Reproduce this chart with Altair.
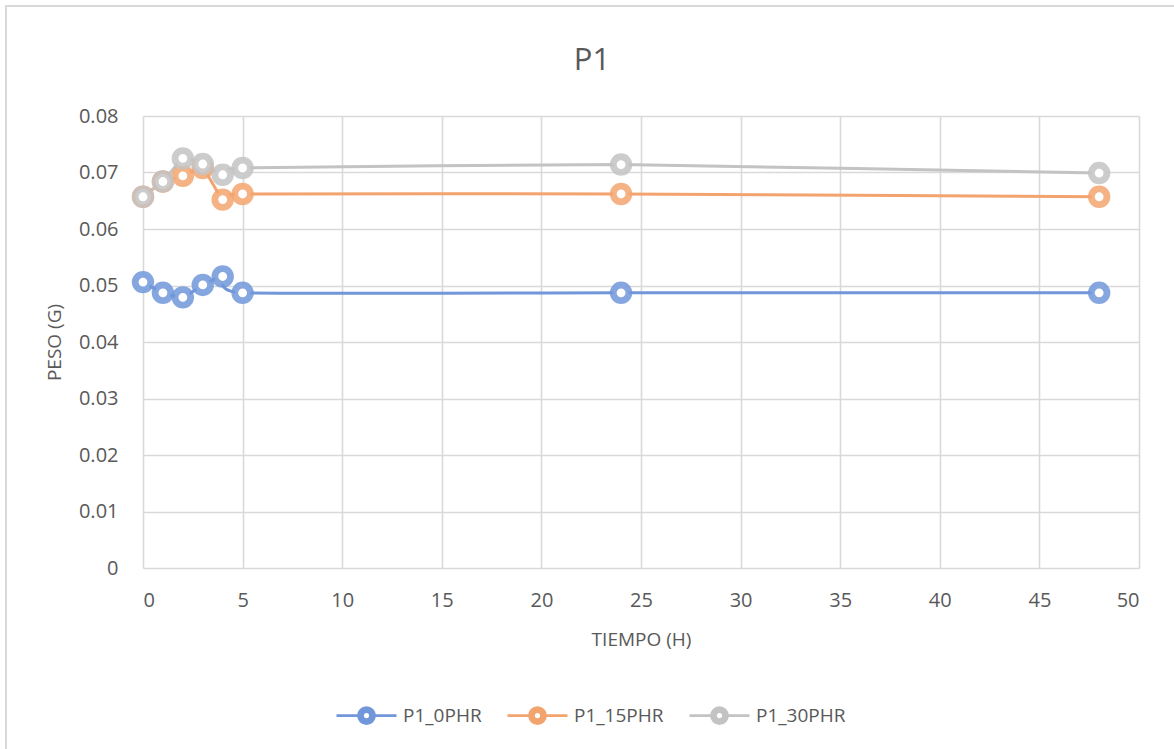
import altair as alt
import pandas as pd

# Sampling times (hours)
tiempo = [0, 1, 2, 3, 4, 5, 24, 48]

# Weight (g) per formulation
p1_0phr = [0.0506, 0.0487, 0.0479, 0.0501, 0.0516, 0.0487, 0.0487, 0.0487]
p1_15phr = [0.0657, 0.0684, 0.0694, 0.0708, 0.0652, 0.0662, 0.0662, 0.0657]
p1_30phr = [0.0657, 0.0684, 0.0725, 0.0715, 0.0696, 0.0708, 0.0714, 0.0699]

series_names = ["P1_0PHR", "P1_15PHR", "P1_30PHR"]
series_colors = ["#7196D9", "#F3A46E", "#C3C3C3"]

rows = []
for name, vals in zip(series_names, [p1_0phr, p1_15phr, p1_30phr]):
    for t, v in zip(tiempo, vals):
        rows.append({"tiempo": t, "peso": v, "serie": name})
df = pd.DataFrame(rows)

FONT = "Open Sans"
TEXT = "#595959"
GRID = "#D9D9D9"

# legend glyph: short line on each side of a thick ring (concentric strokes)
legend_symbol = (
    "M-1,0 L-0.3,0 M0.3,0 L1,0 "
    "M0.13,0 A0.13,0.13 0 1,0 -0.13,0 A0.13,0.13 0 1,0 0.13,0 "
    "M0.2,0 A0.2,0.2 0 1,0 -0.2,0 A0.2,0.2 0 1,0 0.2,0 "
    "M0.27,0 A0.27,0.27 0 1,0 -0.27,0 A0.27,0.27 0 1,0 0.27,0"
)

x_enc = alt.X(
    "tiempo:Q",
    scale=alt.Scale(domain=[0, 50], nice=False),
    axis=alt.Axis(
        values=list(range(0, 51, 5)),
        title="TIEMPO (H)",
        labelPadding=22,
        titlePadding=20,
    ),
)
y_enc = alt.Y(
    "peso:Q",
    scale=alt.Scale(domain=[0, 0.08], nice=False),
    axis=alt.Axis(
        values=[0, 0.01, 0.02, 0.03, 0.04, 0.05, 0.06, 0.07, 0.08],
        labelExpr="datum.value == 0 ? '0' : format(datum.value, '.2f')",
        title="PESO (G)",
        labelPadding=25,
        titlePadding=14,
    ),
)
color_enc = alt.Color(
    "serie:N",
    scale=alt.Scale(domain=series_names, range=series_colors),
    legend=alt.Legend(
        title=None,
        orient="none",
        direction="horizontal",
        legendX=192,
        legendY=568,
        symbolType=legend_symbol,
        symbolSize=3600,
        symbolStrokeWidth=2.6,
        symbolOpacity=1,
        labelFontSize=19,
        labelFont=FONT,
        labelColor=TEXT,
        columnPadding=20,
        labelOffset=5,
    ),
)

base = alt.Chart(df)

lines = base.mark_line(interpolate="cardinal", tension=0.55, strokeWidth=3).encode(
    x=x_enc, y=y_enc, color=color_enc, detail="serie:N"
)

points = base.mark_point(
    filled=False, size=245, strokeWidth=6.8, fill="white", fillOpacity=1, strokeOpacity=0.85
).encode(x=x_enc, y=y_enc, color=color_enc)

# outer chart frame
frame = alt.Chart(pd.DataFrame({"k": [0]})).mark_rect(
    fill=None, stroke=GRID, strokeWidth=2
).encode(
    x=alt.value(-137), x2=alt.value(1200), y=alt.value(-110), y2=alt.value(800)
)

chart = (
    alt.layer(frame, lines, points)
    .properties(
        width=996,
        height=452,
        padding={"left": 143, "top": 116, "right": 35, "bottom": 181},
        autosize=alt.AutoSizeParams(type="none"),
        title=alt.TitleParams(
            "P1",
            fontSize=31,
            font=FONT,
            fontWeight="normal",
            color=TEXT,
            frame="group",
            anchor="middle",
            dx=-49,
            offset=-72,
        ),
    )
    .configure_view(stroke=None)
    .configure_axis(
        labelFont=FONT,
        titleFont=FONT,
        labelFontSize=20,
        titleFontSize=19,
        labelColor=TEXT,
        titleColor=TEXT,
        titleFontWeight="normal",
        ticks=False,
        domain=False,
        gridColor=GRID,
        gridWidth=1.6,
        gridOpacity=1,
    )
)

chart.save("out.html", embed_options={"renderer": "svg", "actions": False})
